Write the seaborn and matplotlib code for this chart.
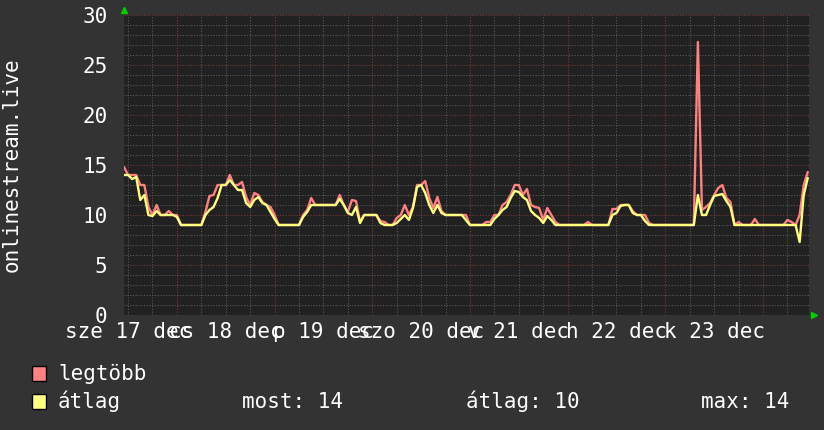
import matplotlib
matplotlib.use("Agg")
import matplotlib.pyplot as plt
import numpy as np
import pandas as pd
import seaborn as sns
from matplotlib.patches import Rectangle

# ---------------- data ----------------
# hourly samples, hours counted from 2025-12-17 00:00 (first sample 11:00)
hours = list(range(11, 180))

legtobb = [
    14.8, 14, 14, 14, 13, 13, 10.8, 10, 11, 10,
    10, 10.4, 10, 10, 9, 9, 9, 9, 9, 9,
    10.3, 11.9, 12, 13, 13, 13, 14, 13, 13, 13.3,
    11.8, 11, 12.2, 12, 11.3, 11, 10.8, 10, 9, 9,
    9, 9, 9, 9, 10, 10.5, 11.7, 11, 11, 11,
    11, 11, 11, 12, 11, 10.3, 11.5, 11.4, 9.3, 10,
    10, 10, 10, 9.4, 9.3, 9, 9, 9.7, 10, 11,
    10, 10.8, 13, 13, 13.4, 11.7, 10.7, 11.8, 10.4, 10,
    10, 10, 10, 10, 10, 9, 9, 9, 9, 9.3,
    9.3, 10, 10, 11, 11.3, 12, 13, 13, 12, 12.6,
    11, 10.8, 10.7, 9.5, 10.7, 10, 9.3, 9, 9, 9,
    9, 9, 9, 9, 9.3, 9, 9, 9, 9, 9,
    10.6, 10.6, 11, 11, 11, 10.4, 10, 10, 10, 9.2,
    9, 9, 9, 9, 9, 9, 9, 9, 9, 9,
    9, 27.3, 10.5, 10.8, 11.2, 12, 12.7, 13, 11.7, 11.3,
    9, 9.3, 9, 9, 9, 9.6, 9, 9, 9, 9,
    9, 9, 9, 9.5, 9.3, 9, 10, 13, 14.3,
]

atlag = [
    14, 14, 13.6, 13.8, 11.5, 12, 10, 9.9, 10.4, 10,
    10, 10, 10, 9.8, 9, 9, 9, 9, 9, 9,
    10, 10.5, 10.8, 11.7, 13, 13, 13.5, 13, 12.5, 12.5,
    11.2, 10.8, 11.5, 11.8, 11.2, 11, 10.3, 9.6, 9, 9,
    9, 9, 9, 9, 9.8, 10.3, 11, 11, 11, 11,
    11, 11, 11, 11.6, 11, 10.2, 10, 10.8, 9.2, 10,
    10, 10, 10, 9.2, 9, 9, 9, 9.2, 9.6, 10,
    9.5, 10.7, 12.8, 13, 12.2, 11, 10.2, 11, 10.2, 10,
    10, 10, 10, 10, 9.5, 9, 9, 9, 9, 9,
    9, 9.6, 10, 10.5, 10.8, 11.7, 12.4, 12.3, 11.8, 11.5,
    10.4, 10, 9.7, 9.2, 9.9, 9.5, 9, 9, 9, 9,
    9, 9, 9, 9, 9, 9, 9, 9, 9, 9,
    10, 10.2, 10.9, 11, 11, 10.2, 10, 10, 9.4, 9,
    9, 9, 9, 9, 9, 9, 9, 9, 9, 9,
    9, 12, 10, 10, 11, 11.9, 12, 12.1, 11.4, 10.8,
    9, 9, 9, 9, 9, 9, 9, 9, 9, 9,
    9, 9, 9, 9, 9, 9, 7.3, 12, 13.7,
]

series_names = ["legtöbb", "átlag"]
series_colors = ["#FF8080", "#FFFF80"]
day_labels = ["sze 17 dec", "cs 18 dec", "p 19 dec", "szo 20 dec",
              "v 21 dec", "h 22 dec", "k 23 dec"]
y_ticks = [0, 5, 10, 15, 20, 25, 30]
y_label = "onlinestream.live"

# ---------------- style ----------------
W, H = 824, 430
BG = "#333333"
PLOT_BG = "#212121"
FG = "#FFFFFF"
FONT = "DejaVu Sans Mono"
FS = 15

sns.set_theme(style="dark")
plt.rcParams["font.family"] = [FONT, "DejaVu Sans"]

fig = plt.figure(figsize=(W / 100, H / 100), dpi=100, facecolor=BG)
ax = fig.add_axes([124 / W, 1 - 315 / H, 685 / W, 300 / H])
ax.set_facecolor(PLOT_BG)

x0, x1 = 11, 179.3
ax.set_xlim(x0, x1)
ax.set_ylim(0, 30)

# grid (drawn below data)
minor_c, major_c = "#585858", "#7a3838"
for hh in range(12, 180, 6):
    ax.axvline(hh, color=major_c if hh % 24 == 0 else minor_c,
               lw=0.8, ls=(0, (1, 1.5)), zorder=1)
for v in range(0, 31):
    ax.axhline(v, color=major_c if v % 5 == 0 else minor_c,
               lw=0.8, ls=(0, (1, 1.5)), zorder=1)

df = pd.concat([
    pd.DataFrame({"hour": hours, "value": legtobb, "series": series_names[0]}),
    pd.DataFrame({"hour": hours, "value": atlag, "series": series_names[1]}),
])
sns.lineplot(data=df, x="hour", y="value", hue="series",
             hue_order=series_names, palette=series_colors,
             estimator=None, linewidth=1.7,
             legend=False, ax=ax, zorder=3)

for s in ax.spines.values():
    s.set_visible(False)

ax.set_xticks([12 + 24 * i for i in range(len(day_labels))])
ax.set_xticklabels(day_labels)
ax.set_yticks(y_ticks)
ax.set_yticklabels([str(t) for t in y_ticks])
ax.tick_params(axis="both", length=0, colors=FG, labelsize=FS)
ax.tick_params(axis="x", pad=5)
ax.tick_params(axis="y", pad=12)
for lbl in ax.get_xticklabels() + ax.get_yticklabels():
    lbl.set_family(FONT)
ax.set_xlabel("")
ax.set_ylabel("")
ax.grid(False)

# arrows at axis ends
ax.plot([0], [1 + 5 / 300], marker="^", color="#00D000", markersize=4.5,
        transform=ax.transAxes, clip_on=False, zorder=5)
ax.plot([1 + 5 / 685], [0], marker=">", color="#00D000", markersize=4.5,
        transform=ax.transAxes, clip_on=False, zorder=5)

fig.text(12 / W, 1 - 165 / H, y_label, rotation=90, ha="center", va="center",
         color=FG, fontsize=FS, family=FONT)

# legend
rows = [380, 408]
for name, col, base in zip(series_names, series_colors, rows):
    fig.add_artist(Rectangle((32 / W, 1 - (base + 1) / H), 14 / W, 15 / H,
                             transform=fig.transFigure, facecolor=col,
                             edgecolor="black", lw=1))
    fig.text(58 / W, 1 - base / H, name, ha="left", va="baseline",
             color=FG, fontsize=FS, family=FONT)

vals = np.array(atlag)
stats = [("most", vals[-1], 242), ("átlag", vals.mean(), 466), ("max", vals.max(), 701)]
for name, v, xp in stats:
    fig.text(xp / W, 1 - rows[1] / H, f"{name}: {v:.0f}", ha="left",
             va="baseline", color=FG, fontsize=FS, family=FONT)

fig.savefig("out.png", dpi=100, facecolor=BG)
